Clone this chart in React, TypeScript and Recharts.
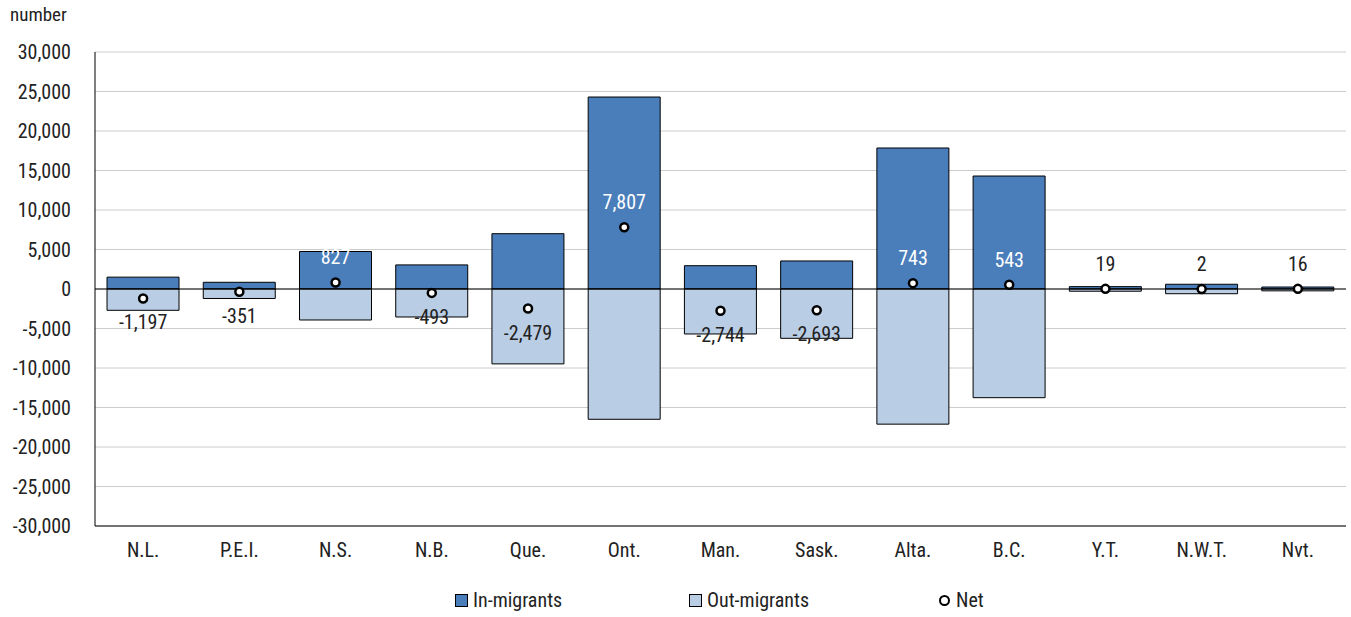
import React from 'react';
import {
  ComposedChart, Bar, Line, XAxis, YAxis, CartesianGrid, ReferenceLine, LabelList, Legend,
} from 'recharts';

const provinces = ['N.L.', 'P.E.I.', 'N.S.', 'N.B.', 'Que.', 'Ont.', 'Man.', 'Sask.', 'Alta.', 'B.C.', 'Y.T.', 'N.W.T.', 'Nvt.'];
const inMigrants = [1500, 850, 4750, 3050, 7000, 24300, 2950, 3550, 17850, 14300, 300, 600, 250];
const outMigrants = [-2697, -1201, -3923, -3543, -9479, -16493, -5694, -6243, -17107, -13757, -281, -598, -234];
const net = [-1197, -351, 827, -493, -2479, 7807, -2744, -2693, 743, 543, 19, 2, 16];
const yTicks = [-30000, -25000, -20000, -15000, -10000, -5000, 0, 5000, 10000, 15000, 20000, 25000, 30000];

const FONT = '"Liberation Sans Narrow", "Roboto Condensed", Roboto, "Liberation Sans", sans-serif';
const IN_COLOR = '#4a7ebb';
const OUT_COLOR = '#b9cde5';
const TEXT = '#222';

const data = provinces.map((p, i) => ({
  name: p,
  inM: inMigrants[i],
  outM: outMigrants[i],
  net: net[i],
}));

const fmt = (v: number) => v.toLocaleString('en-US');

const NetLabel = (props: any) => {
  const { x, y, value, index } = props;
  const pos = value >= 0;
  const white = pos && inMigrants[index] > 1000;
  return (
    <text
      x={x}
      y={pos ? y - 25 : y + 24}
      textAnchor="middle"
      dominantBaseline="central"
      fontSize={20}
      fontFamily={FONT}
      fill={white ? '#fff' : TEXT}
    >
      {fmt(value)}
    </text>
  );
};

const LegendContent = () => (
  <div style={{ display: 'flex', justifyContent: 'center', fontFamily: FONT, fontSize: 20, color: TEXT, marginLeft: 108, paddingTop: 22 }}>
    <div style={{ display: 'flex', alignItems: 'center', width: 234 }}>
      <span style={{ width: 11, height: 11, background: IN_COLOR, border: '1px solid #000', marginRight: 5 }} />
      In-migrants
    </div>
    <div style={{ display: 'flex', alignItems: 'center', width: 250 }}>
      <span style={{ width: 11, height: 11, background: OUT_COLOR, border: '1px solid #000', marginRight: 5 }} />
      Out-migrants
    </div>
    <div style={{ display: 'flex', alignItems: 'center', width: 60 }}>
      <span style={{ width: 7, height: 7, borderRadius: '50%', background: '#fff', border: '2.5px solid #000', marginRight: 6 }} />
      Net
    </div>
  </div>
);

export default function App() {
  return (
    <div style={{ position: 'absolute', left: 0, top: 0, width: 1351, height: 617, background: '#fff' }}>
      <div style={{ position: 'absolute', left: 10, top: 3, fontFamily: FONT, fontSize: 19, color: TEXT }}>number</div>
      <ComposedChart
        width={1351}
        height={617}
        data={data}
        stackOffset="sign"
        barCategoryGap="12.5%"
        margin={{ top: 52, right: 5, bottom: 0, left: 0 }}
      >
        <CartesianGrid vertical={false} stroke="#cccccc" />
        <XAxis
          dataKey="name"
          axisLine={{ stroke: '#000' }}
          tickLine={false}
          tick={{ fontSize: 20, fill: TEXT, fontFamily: FONT }}
          tickMargin={11}
          height={40}
        />
        <XAxis xAxisId="top" orientation="top" dataKey="name" tick={false} tickLine={false} axisLine={{ stroke: '#000' }} height={0} />
        <YAxis
          domain={[-30000, 30000]}
          ticks={yTicks}
          tickFormatter={fmt}
          axisLine={{ stroke: '#000' }}
          tickLine={false}
          tick={{ fontSize: 20, fill: TEXT, fontFamily: FONT }}
          tickMargin={18}
          width={95}
          interval={0}
        />
        <YAxis yAxisId="r" orientation="right" domain={[-30000, 30000]} tick={false} tickLine={false} axisLine={{ stroke: '#000' }} width={0} />
        <Legend verticalAlign="bottom" height={51} content={<LegendContent />} />
        <Bar dataKey="inM" stackId="a" fill={IN_COLOR} stroke="#000" strokeWidth={1} isAnimationActive={false} />
        <Bar dataKey="outM" stackId="a" fill={OUT_COLOR} stroke="#000" strokeWidth={1} isAnimationActive={false} />
        <ReferenceLine y={0} stroke="#000" strokeWidth={1.2} />
        <Line
          dataKey="net"
          stroke="none"
          isAnimationActive={false}
          dot={{ r: 4, fill: '#fff', stroke: '#000', strokeWidth: 2.5 }}
          activeDot={false}
        >
          <LabelList dataKey="net" content={<NetLabel />} />
        </Line>
      </ComposedChart>
    </div>
  );
}
